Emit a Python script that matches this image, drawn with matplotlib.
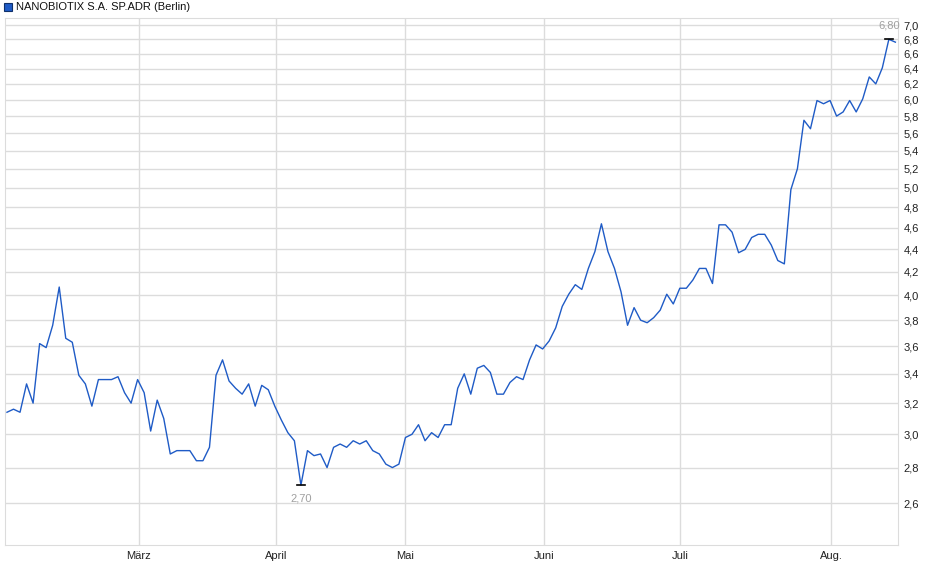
import numpy as np
import matplotlib
matplotlib.use("Agg")
import matplotlib.pyplot as plt
from matplotlib.ticker import FixedLocator, NullLocator

plt.rcParams['font.family'] = ['Liberation Sans', 'DejaVu Sans']

prices = [3.14, 3.16, 3.14, 3.33, 3.2, 3.62, 3.59, 3.76, 4.07, 3.66, 3.63, 3.39, 3.33, 3.18,
          3.36, 3.36, 3.36, 3.38, 3.27, 3.2, 3.36, 3.27, 3.02, 3.22, 3.1, 2.88, 2.9, 2.9, 2.9,
          2.84, 2.84, 2.92, 3.39, 3.5, 3.35, 3.30, 3.26, 3.33, 3.18, 3.32, 3.29, 3.18, 3.09,
          3.01, 2.96, 2.70,
          2.9, 2.87, 2.88, 2.8, 2.92, 2.94, 2.92, 2.96, 2.94, 2.96, 2.9, 2.88, 2.82, 2.8, 2.82,
          2.98, 3.0, 3.06, 2.96, 3.01, 2.98, 3.06, 3.06, 3.3, 3.4, 3.26, 3.44, 3.46, 3.41, 3.26,
          3.26, 3.34, 3.38, 3.36, 3.5, 3.61, 3.58, 3.64, 3.74, 3.91, 4.01, 4.09, 4.05, 4.23,
          4.38, 4.64, 4.38, 4.23, 4.03,
          3.76, 3.9, 3.8, 3.78, 3.82, 3.88, 4.01, 3.93, 4.06, 4.06, 4.13, 4.23, 4.23, 4.1, 4.63,
          4.63, 4.56, 4.37, 4.4, 4.51, 4.54, 4.54, 4.44, 4.3, 4.27, 4.98, 5.2, 5.75, 5.65, 5.99,
          5.95, 5.99, 5.8, 5.85, 5.99, 5.85, 6.01, 6.29, 6.2, 6.41, 6.8, 6.76]
month_labels = ["März", "April", "Mai", "Juni", "Juli", "Aug."]
month_pos = [20.2, 41.2, 61.0, 82.2, 103.0, 126.2]
y_ticks = [2.6, 2.8, 3.0, 3.2, 3.4, 3.6, 3.8, 4.0, 4.2, 4.4, 4.6, 4.8, 5.0, 5.2, 5.4,
           5.6, 5.8, 6.0, 6.2, 6.4, 6.6, 6.8, 7.0]

x = np.arange(len(prices))
fig = plt.figure(figsize=(9.4, 5.79), dpi=100)
ax = fig.add_axes([5 / 940, 1 - 545 / 579, 893 / 940, 527 / 579])
ax.plot(x, prices, color="#1f5bc6", lw=1)
ax.set_yscale("log")
ax.set_ylim(2.385, 7.107)
ax.set_xlim(-0.3, len(prices) - 1 + 0.4)
ax.yaxis.set_major_locator(FixedLocator(y_ticks))
ax.yaxis.set_minor_locator(NullLocator())
ax.set_yticklabels([f"{v:.1f}".replace(".", ",") for v in y_ticks])
ax.yaxis.tick_right()
ax.set_xticks(month_pos)
ax.set_xticklabels(month_labels)
ax.tick_params(labelsize=8, length=0, pad=4, colors="#222222")
ax.grid(True, color="#dcdcdc", lw=1)
ax.set_axisbelow(True)
for s in ax.spines.values():
    s.set_color("#dcdcdc")

imin, imax = int(np.argmin(prices)), int(np.argmax(prices))
for i, off, va in [(imin, -6, "top"), (imax, 6, "bottom")]:
    ax.plot([i - 0.6, i + 0.6], [prices[i]] * 2, color="black", lw=1.2)
    ax.annotate(f"{prices[i]:.2f}".replace(".", ","), (i, prices[i]), xytext=(0, off),
                textcoords="offset points", ha="center", va=va, fontsize=8, color="#a0a0a0")

fig.patches.append(plt.Rectangle((4 / 940, 1 - 11 / 579), 8 / 940, 8 / 579,
                                 transform=fig.transFigure, facecolor="#1f5bc6",
                                 edgecolor="#10306a", lw=0.8))
fig.text(16 / 940, 1 - 7 / 579, "NANOBIOTIX S.A. SP.ADR (Berlin)", fontsize=8,
         va="center", color="#111111")

fig.savefig("out.png", dpi=100)
